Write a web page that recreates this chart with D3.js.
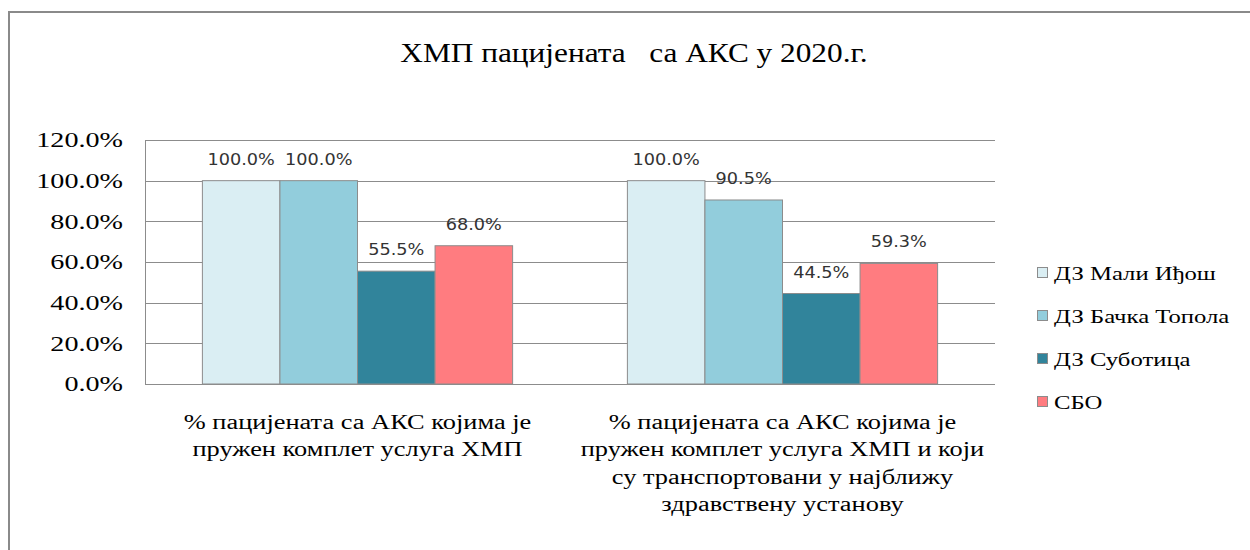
<!DOCTYPE html>
<html>
<head>
<meta charset="UTF-8">
<title>ХМП пацијената са АКС у 2020.г.</title>
<script src="https://cdn.jsdelivr.net/npm/d3@7/dist/d3.min.js"></script>
<style>
  body{margin:0;background:#fff;}
  svg{display:block;}
  svg text.serif{fill:#000;transform-box:fill-box;}
  svg text.lbl{font-family:"DejaVu Sans","Liberation Sans",sans-serif;font-size:15px;fill:#333;transform-box:fill-box;transform-origin:center;transform:scaleX(1.18);}
</style>
</head>
<body>
<script>
// categories (x groups)
var categories = [
  ["% пацијената са АКС којима је", "пружен комплет услуга ХМП"],
  ["% пацијената са АКС којима је", "пружен комплет услуга ХМП и који", "су транспортовани у најближу", "здравствену установу"]
];
var series = ["ДЗ Мали Иђош", "ДЗ Бачка Топола", "ДЗ Суботица", "СБО"];
var colors = ["#DAEEF3", "#92CDDC", "#31849B", "#FF7C80"];
// values per series, one per category
var maliIdjos   = [100.0, 100.0];
var backaTopola = [100.0, 90.5];
var subotica    = [55.5, 44.5];
var sbo         = [68.0, 59.3];
var values = [maliIdjos, backaTopola, subotica, sbo];
var yTicks = [0, 20, 40, 60, 80, 100, 120];

var W = 1250, H = 550;
var plot = {left:145, right:995, top:140, bottom:384};
var serifFont = "'Liberation Serif', 'DejaVu Serif', 'Noto Serif', 'FreeSerif', 'Times New Roman', serif";

var svg = d3.select("body").append("svg").attr("width", W).attr("height", H);

// stretched text, like the original picture
function stretch(sel, origin, k){
  sel.attr("class", "serif").style("font-family", serifFont)
    .style("transform-origin", origin).style("transform", "scaleX(" + k + ")");
}

// outer frame
svg.append("rect").attr("x", 9).attr("y", 12).attr("width", W + 20).attr("height", H + 20)
  .attr("fill", "#fff").attr("stroke", "#8a8a8a").attr("stroke-width", 2);

// title
svg.append("text")
  .attr("x", 634).attr("y", 62).attr("text-anchor", "middle")
  .attr("font-size", "27px").style("white-space", "pre")
  .text("ХМП пацијената   са АКС у 2020.г.")
  .call(stretch, "center", 1.16);

var x0 = d3.scaleBand().domain(d3.range(categories.length))
  .range([plot.left, plot.right]).paddingInner(0).paddingOuter(0);
var x1 = d3.scaleBand().domain(d3.range(series.length))
  .range([0, x0.bandwidth()]).paddingOuter(0.74).paddingInner(0);
var y = d3.scaleLinear().domain([0, 120]).range([plot.bottom, plot.top]);

// gridlines
svg.append("g").selectAll("line").data(yTicks).enter().append("line")
  .attr("x1", plot.left).attr("x2", plot.right)
  .attr("y1", function(d){ return Math.round(y(d)) + 0.5; })
  .attr("y2", function(d){ return Math.round(y(d)) + 0.5; })
  .attr("stroke", "#8c8c8c").attr("stroke-width", 1);

// left axis line
svg.append("line").attr("x1", plot.left + 0.5).attr("x2", plot.left + 0.5)
  .attr("y1", plot.top).attr("y2", plot.bottom)
  .attr("stroke", "#8c8c8c");

// y axis labels
var yAxis = d3.axisLeft(y).tickValues(yTicks).tickSize(0).tickPadding(22)
  .tickFormat(function(d){ return d3.format(".1f")(d) + "%"; });
var ya = svg.append("g").attr("transform", "translate(" + plot.left + ",0)").call(yAxis)
  .attr("font-family", null).attr("font-size", null);
ya.select(".domain").remove();
ya.selectAll("text").style("font-size", "21px").attr("fill", "#000")
  .call(stretch, "right center", 1.34);

// bars
var groups = svg.append("g").selectAll("g").data(categories).enter().append("g")
  .attr("transform", function(d, i){ return "translate(" + x0(i) + ",0)"; });

groups.selectAll("rect").data(function(d, i){
    return series.map(function(s, j){ return {s: j, v: values[j][i]}; });
  }).enter().append("rect")
  .attr("x", function(d){ return x1(d.s); })
  .attr("width", x1.bandwidth())
  .attr("y", function(d){ return y(d.v); })
  .attr("height", function(d){ return plot.bottom - y(d.v); })
  .attr("fill", function(d){ return colors[d.s]; })
  .attr("stroke", "#8c8c8c").attr("stroke-width", 1);

groups.selectAll("text.lbl").data(function(d, i){
    return series.map(function(s, j){ return {s: j, v: values[j][i]}; });
  }).enter().append("text").attr("class", "lbl")
  .attr("x", function(d){ return x1(d.s) + x1.bandwidth() / 2; })
  .attr("y", function(d){ return y(d.v) - 16; })
  .attr("text-anchor", "middle")
  .text(function(d){ return d3.format(".1f")(d.v) + "%"; });

// category labels
svg.append("g").selectAll("text").data(categories).enter().append("text")
  .attr("font-size", "20px").attr("text-anchor", "middle")
  .attr("x", function(d, i){ return x0(i) + x0.bandwidth() / 2; })
  .attr("y", 429)
  .each(function(lines){
    var t = d3.select(this);
    lines.forEach(function(l, k){
      t.append("tspan").attr("x", t.attr("x")).attr("dy", k === 0 ? 0 : 27.5).text(l);
    });
  })
  .call(stretch, "center", 1.32);

// legend
var leg = svg.append("g").selectAll("g").data(series).enter().append("g")
  .attr("transform", function(d, i){ return "translate(1037," + (273 + i * 43) + ")"; });
leg.append("rect").attr("x", 0.5).attr("y", -5.5).attr("width", 10).attr("height", 10)
  .attr("fill", function(d, i){ return colors[i]; }).attr("stroke", "#8c8c8c");
leg.append("text").attr("font-size", "19px")
  .attr("x", 17).attr("y", 7).text(function(d){ return d; })
  .call(stretch, "left center", 1.3);
</script>
</body>
</html>
